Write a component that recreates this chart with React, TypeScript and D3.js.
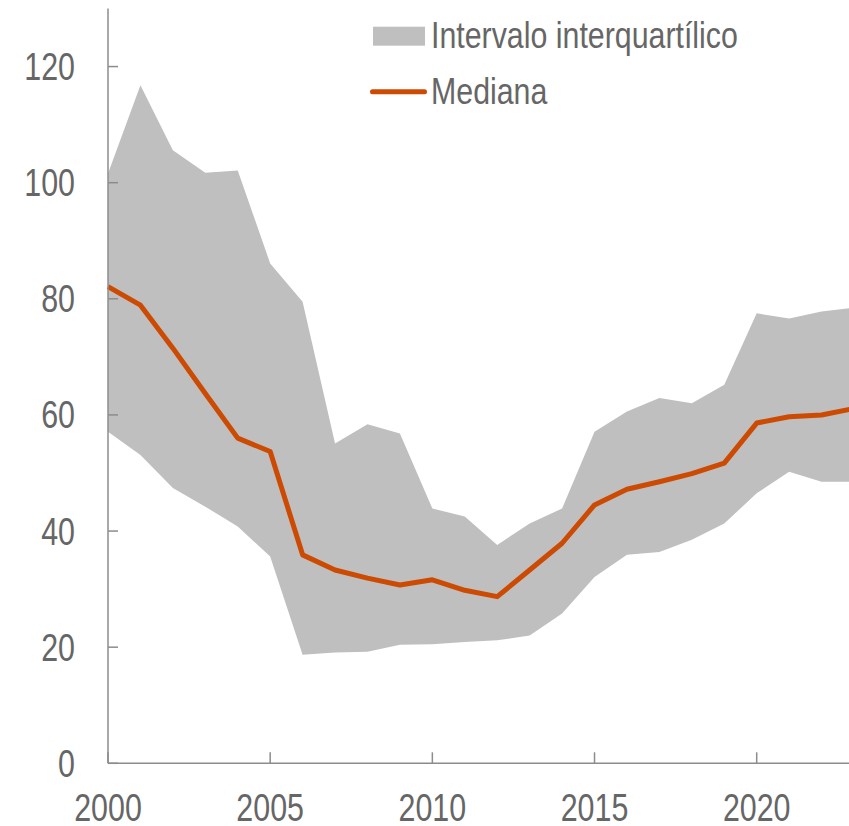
import React from "react";
import * as d3 from "d3";

const years = [2000, 2001, 2002, 2003, 2004, 2005, 2006, 2007, 2008, 2009, 2010, 2011, 2012, 2013, 2014, 2015, 2016, 2017, 2018, 2019, 2020, 2021, 2022, 2023];
const upper = [101.6, 116.8, 105.6, 101.7, 102.1, 86.1, 79.5, 55.1, 58.4, 56.8, 43.9, 42.5, 37.6, 41.3, 43.9, 57.1, 60.6, 62.9, 62.0, 65.2, 77.5, 76.6, 77.8, 78.5];
const median = [82.1, 78.9, 71.5, 63.7, 56.0, 53.7, 35.9, 33.3, 31.9, 30.7, 31.6, 29.8, 28.7, 33.3, 37.9, 44.5, 47.2, 48.5, 49.9, 51.7, 58.6, 59.7, 60.0, 61.1];
const lower = [57.1, 53.1, 47.4, 44.2, 40.8, 35.6, 18.7, 19.1, 19.2, 20.4, 20.5, 20.9, 21.2, 22.0, 25.8, 32.1, 35.9, 36.4, 38.5, 41.3, 46.5, 50.2, 48.5, 48.5];
const yTicks = [0, 20, 40, 60, 80, 100, 120];
const xTicks = [2000, 2005, 2010, 2015, 2020];
const legendLabels = ["Intervalo interquartílico", "Mediana"];

const W = 849;
const H = 826;
const FONT = "'Liberation Sans Narrow', 'Arial Narrow', 'Liberation Sans', Arial, sans-serif";
const TEXT = "#666666";
const AXIS = "#8c8c8c";
const BAND = "#bfbfbf";
const LINE = "#cc4a02";

function T({ x, y, anchor, size, sx, children }: any) {
  return (
    <text
      transform={`translate(${x},${y}) scale(${sx},1)`}
      textAnchor={anchor}
      fontSize={size}
      fill={TEXT}
    >
      {children}
    </text>
  );
}

export default function App() {
  const x = d3.scaleLinear().domain([2000, 2023]).range([108, 854]);
  const y = d3.scaleLinear().domain([0, 130]).range([763.3, 8.5]);

  const data = years.map((yr, i) => ({ yr, lo: lower[i], hi: upper[i], med: median[i] }));
  const area = d3
    .area<any>()
    .x((d) => x(d.yr))
    .y0((d) => y(d.lo))
    .y1((d) => y(d.hi));
  const line = d3
    .line<any>()
    .x((d) => x(d.yr))
    .y((d) => y(d.med));

  const x0 = x(2000);
  const y0 = y(0);

  return (
    <svg
      width={W}
      height={H}
      style={{ position: "absolute", left: 0, top: 0, background: "#fff" }}
      fontFamily={FONT}
    >
      <path d={area(data) || ""} fill={BAND} />
      <path d={line(data) || ""} fill="none" stroke={LINE} strokeWidth={5} strokeLinejoin="round" />

      {/* axes */}
      <line x1={x0} x2={x0} y1={y(130)} y2={y0} stroke={AXIS} strokeWidth={1.5} />
      <line x1={x0} x2={W} y1={y0} y2={y0} stroke={AXIS} strokeWidth={1.5} />
      {yTicks.map((t) => (
        <g key={"y" + t}>
          <line x1={x0} x2={x0 + 10} y1={y(t)} y2={y(t)} stroke={AXIS} strokeWidth={1.5} />
          <T x={75} y={y(t) + 13.5} anchor="end" size={38} sx={0.8}>
            {t}
          </T>
        </g>
      ))}
      {xTicks.map((t) => (
        <g key={"x" + t}>
          <line x1={x(t)} x2={x(t)} y1={y0} y2={y0 - 11} stroke={AXIS} strokeWidth={1.5} />
          <T x={x(t)} y={821} anchor="middle" size={38} sx={0.8}>
            {t}
          </T>
        </g>
      ))}

      {/* legend */}
      <rect x={373} y={26.7} width={52} height={19} fill={BAND} />
      <T x={431} y={48.3} anchor="start" size={37} sx={0.82}>
        {legendLabels[0]}
      </T>
      <line x1={372.5} x2={424.5} y1={91.7} y2={91.7} stroke={LINE} strokeWidth={5} strokeLinecap="round" />
      <T x={431} y={104} anchor="start" size={37} sx={0.82}>
        {legendLabels[1]}
      </T>
    </svg>
  );
}
